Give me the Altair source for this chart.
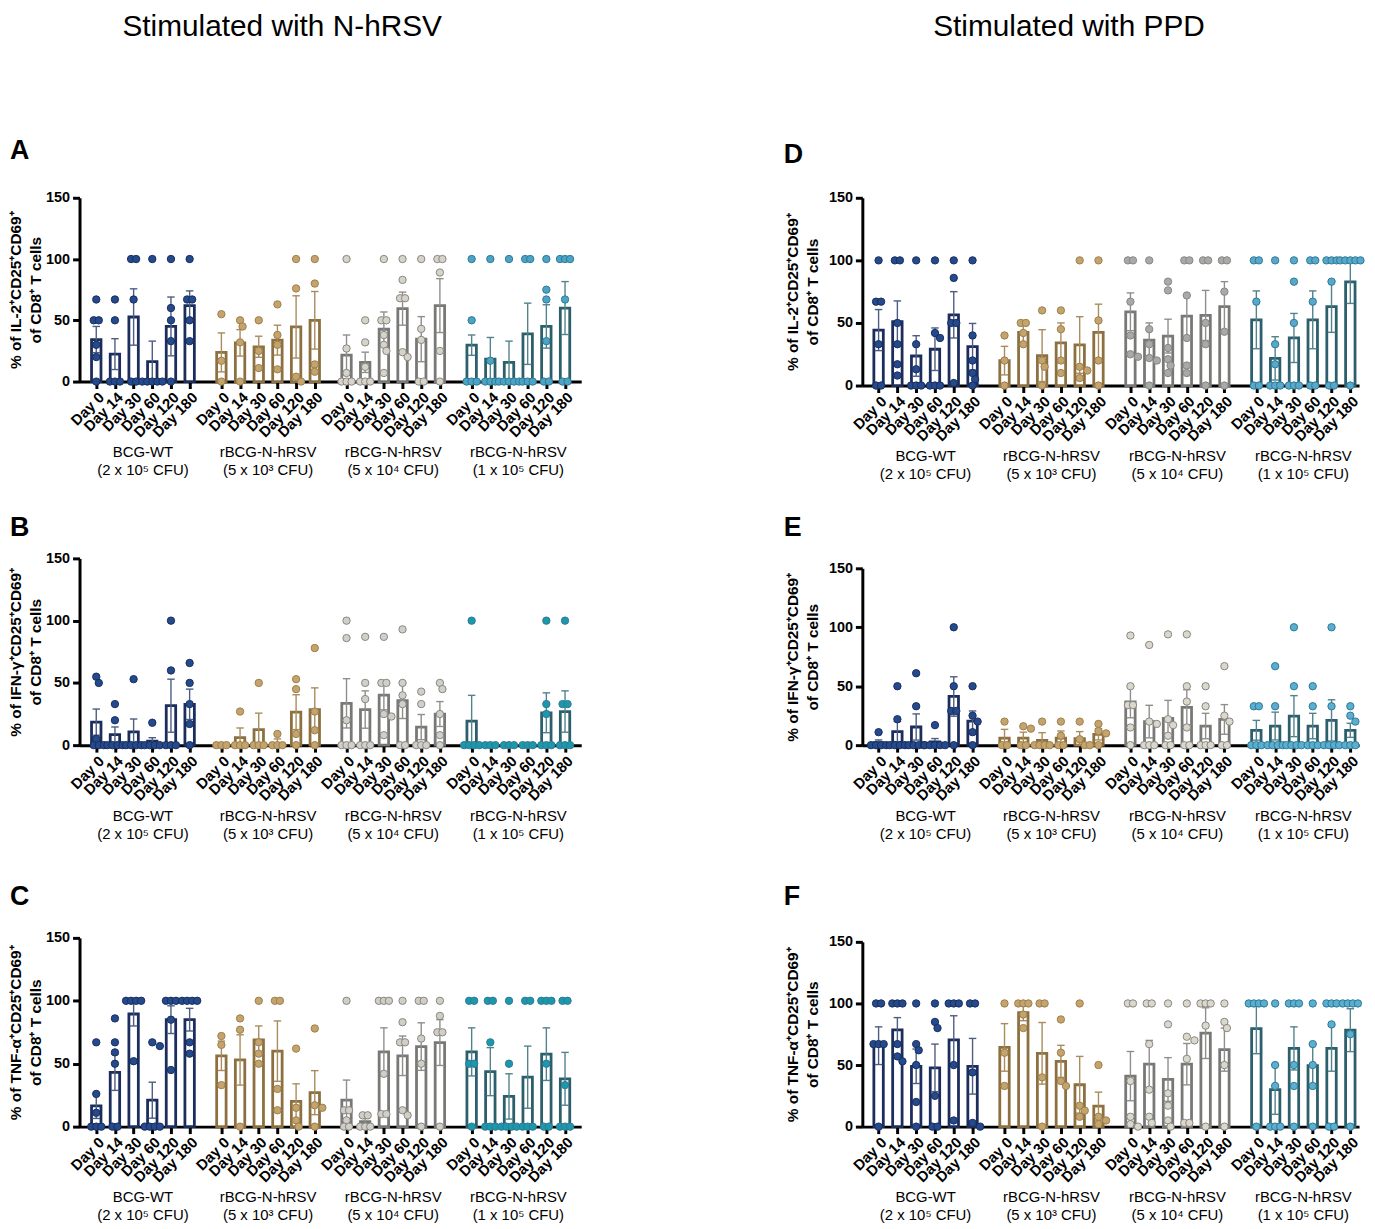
import altair as alt
import pandas as pd

# ---------------- data ----------------
DAYS = ["Day 0", "Day 14", "Day 30", "Day 60", "Day 120", "Day 180"]
GROUP_LABELS = [
    "BCG-WT\n(2 x 10⁵ CFU)",
    "rBCG-N-hRSV\n(5 x 10³ CFU)",
    "rBCG-N-hRSV\n(5 x 10⁴ CFU)",
    "rBCG-N-hRSV\n(1 x 10⁵ CFU)",
]
HEAD_LEFT = "Stimulated with N-hRSV"
HEAD_RIGHT = "Stimulated with PPD"
TITLE_IL2 = ["% of IL-2⁺CD25⁺CD69⁺", "of CD8⁺ T cells"]
TITLE_IFN = ["% of IFN-γ⁺CD25⁺CD69⁺", "of CD8⁺ T cells"]
TITLE_TNF = ["% of TNF-α⁺CD25⁺CD69⁺", "of CD8⁺ T cells"]

# Panel A  (IL-2, N-hRSV)
A_MEAN = [[34.3, 22.4, 52.7, 16.2, 45, 62], [23.8, 31.6, 28.4, 33.8, 44.6, 50],
          [21.6, 15.7, 42.7, 59.5, 34.6, 62], [29.7, 18.4, 15.7, 39, 45, 60]]
A_SEM = [[10.7, 12.6, 23, 16.8, 24, 12], [15.9, 10.8, 8.6, 12.2, 25.4, 23.5],
         [16.4, 8.3, 14.1, 13.5, 18.4, 22], [8.3, 17.6, 17.3, 25, 17.7, 21.6]]
A_PTS = [
    [[67, 50, 50, 30, 20, 0], [67, 50, 0, 0, 0], [100, 100, 67, 0, 0], [100, 0, 0, 0, 0, 0], [100, 60, 50, 33, 0], [100, 67, 67, 50, 33]],
    [[55, 17, 0], [50, 45, 32, 0], [50, 25, 11], [63, 38, 30, 10], [100, 76, 4, 0], [100, 80, 14, 8]],
    [[100, 27, 7, 0, 0, 0], [50, 32, 12, 0, 0, 0], [100, 50, 50, 38, 30, 25, 7], [100, 83, 68, 68, 24, 20], [100, 43, 34, 0, 0], [100, 100, 89, 25, 0]],
    [[100, 50, 0, 0, 0], [100, 17, 0, 0, 0], [100, 0, 0, 0, 0, 0], [100, 100, 0, 0, 0], [100, 75, 67, 33, 0, 0], [100, 100, 100, 67, 0, 0]],
]

# Panel B  (IFN-g, N-hRSV)
B_MEAN = [[18.5, 8.5, 10.6, 3.2, 31.7, 32.8], [0, 6, 12.4, 1.3, 26.5, 28.6],
          [33.6, 28.6, 40.2, 35.7, 14.5, 25], [19.3, 0, 0, 0, 26, 27]]
B_SEM = [[10.5, 6.1, 10.4, 2.8, 21.3, 12.2], [0, 7.8, 13.3, 3.7, 14, 17.4],
         [19.8, 15, 11.8, 14.3, 10.1, 10], [20.7, 0, 0, 0, 16, 16.6]]
B_PTS = [
    [[55, 50, 5, 0, 0, 0], [33, 20, 0, 0, 0, 0], [53, 0, 0, 0, 0], [18, 0, 0, 0, 0], [100, 60, 0, 0, 0], [66, 50, 33, 17, 0]],
    [[0, 0, 0], [27, 0, 0, 0], [50, 0, 0, 0], [9, 0, 0, 0], [53, 45, 9, 0], [78, 27, 12, 0]],
    [[100, 86, 20, 0, 0, 0], [87, 50, 37, 0, 0, 0], [87, 50, 50, 25, 23, 8], [93, 50, 40, 33, 0, 0], [43, 33, 0, 0, 0], [50, 45, 25, 8, 0]],
    [[100, 0, 0, 0, 0], [0, 0, 0], [0, 0, 0], [0, 0, 0], [100, 33, 25, 0, 0, 0], [100, 33, 33, 0, 0, 0]],
]

# Panel C  (TNF-a, N-hRSV)
C_MEAN = [[16.5, 43.2, 89.5, 21, 85, 85], [56.3, 53, 69, 60, 20, 27],
          [21, 4, 59.4, 56.3, 63.6, 66.8], [59.4, 43.7, 24, 39.3, 57.6, 38]]
C_SEM = [[10, 14.4, 9.5, 14.3, 11, 9], [11.7, 20, 11, 24, 14, 17.5],
         [16, 2.5, 19.1, 15.7, 18.9, 18.2], [19.1, 19.1, 18, 24.7, 20.9, 21]]
C_PTS = [
    [[67, 26, 11, 0, 0, 0], [86, 67, 59, 50, 0, 0], [100, 100, 100, 100, 52], [67, 64, 0, 0, 0, 0], [100, 100, 100, 85, 45], [100, 100, 100, 100, 67, 58]],
    [[72, 65, 33], [86, 77, 0], [100, 67, 58, 50], [100, 100, 30, 13], [62, 15, 5, 0], [78, 17, 15, 0]],
    [[100, 13, 13, 5, 0, 0], [9, 9, 0, 0, 0], [100, 100, 100, 42, 10, 10], [100, 83, 67, 67, 13, 9], [100, 100, 70, 50, 0], [100, 88, 75, 75, 0]],
    [[100, 100, 50, 50, 0], [100, 100, 67, 0, 0, 0], [100, 50, 0, 0, 0, 0], [100, 100, 0, 0, 0], [100, 100, 100, 50, 0, 0], [100, 100, 33, 0, 0, 0]],
]

# Panel D  (IL-2, PPD)
D_MEAN = [[44.3, 51, 23.6, 29, 56.5, 31], [19.9, 42.4, 23.9, 34, 32.4, 42.4],
          [58.9, 36.3, 39.5, 55.4, 56, 63], [52.5, 21.7, 38, 52.5, 63, 82.8]]
D_SEM = [[16.4, 16.6, 16.2, 17, 18.5, 18.6], [11.4, 8.6, 20.7, 16, 22.6, 22.6],
         [15.1, 13.7, 13.5, 16.6, 20, 20], [23.1, 17.3, 19.6, 23.1, 20.5, 17.2]]
D_PTS = [
    [[100, 67, 67, 33, 0, 0], [100, 100, 50, 33, 17, 8], [100, 33, 13, 0, 0, 0], [100, 42, 38, 0, 0, 0], [100, 86, 50, 50, 2], [100, 40, 20, 10, 5, 0]],
    [[40, 20, 0], [50, 50, 42, 33], [60, 20, 15, 0], [60, 45, 20, 10], [100, 15, 12, 6], [100, 52, 20, 0]],
    [[100, 100, 67, 40, 25, 23], [100, 45, 33, 22, 20, 0], [83, 76, 30, 21, 16, 10], [100, 100, 72, 38, 16, 10], [100, 100, 50, 33, 0], [100, 100, 75, 43, 0]],
    [[100, 100, 67, 0, 0], [100, 33, 17, 0, 0, 0], [100, 83, 50, 0, 0, 0], [100, 100, 67, 0, 0], [100, 100, 100, 83, 0, 0], [100, 100, 100, 100, 100, 0]],
]

# Panel E  (IFN-g, PPD)
E_MEAN = [[2.2, 11.5, 15.4, 2.8, 41.3, 20.4], [6, 6, 4, 6, 5.6, 9.2],
          [36.6, 20, 22.6, 32, 16.2, 21.8], [12.6, 16.2, 24.6, 16.2, 21, 12.6]]
E_SEM = [[2.2, 8.5, 11.1, 2.8, 16.7, 8.6], [7.4, 5, 6.6, 6, 5.9, 4.8],
         [13.4, 13.8, 15.4, 15, 10.8, 12.6], [8.4, 11.8, 17.4, 10.8, 17.5, 6]]
E_PTS = [
    [[11, 0, 0, 0, 0], [50, 22, 0, 0, 0, 0], [61, 33, 0, 0, 0, 0], [17, 0, 0, 0, 0, 0], [100, 50, 29, 29, 0], [50, 25, 20, 11, 0]],
    [[20, 0, 0], [16, 14, 0, 0], [20, 0, 0, 0, 0], [20, 8, 0, 0], [20, 5, 0, 0], [18, 12, 10, 0]],
    [[93, 50, 34, 34, 15, 0], [85, 20, 18, 0, 0, 0], [94, 22, 17, 8, 0, 0], [94, 50, 37, 15, 0, 0], [50, 33, 0, 0, 0], [67, 25, 20, 0, 0]],
    [[33, 33, 0, 0, 0], [67, 33, 0, 0, 0, 0], [100, 50, 0, 0, 0, 0], [50, 33, 0, 0, 0], [100, 33, 0, 0, 0, 0], [33, 25, 20, 0, 0, 0]],
]

# Panel F  (TNF-a, PPD)
F_MEAN = [[65.7, 78.5, 49, 47.7, 70.5, 49], [64.3, 92.5, 59.5, 53, 34, 16.6],
          [41, 50.7, 38.3, 50.7, 75.9, 62.5], [79.6, 30, 63.5, 49.6, 63.5, 78.3]]
F_SEM = [[15.3, 10, 14, 19.3, 19.5, 22.6], [19.3, 6.5, 25, 13, 23, 11.4],
         [20, 19.3, 17.7, 16.8, 20.6, 17.5], [20.4, 20, 17.5, 17.4, 18.5, 17.4]]
F_PTS = [
    [[100, 100, 67, 67, 67, 0], [100, 100, 100, 67, 57, 53], [100, 67, 62, 50, 20, 0], [100, 85, 80, 25, 0, 0], [100, 100, 100, 50, 5], [100, 100, 44, 3, 0]],
    [[100, 60, 33], [100, 100, 100, 91, 80], [100, 100, 40, 0], [87, 60, 37, 33], [100, 17, 13, 8], [50, 8, 5, 2]],
    [[100, 100, 37, 8, 2, 0], [100, 100, 67, 30, 8, 3], [100, 83, 27, 17, 5, 0], [100, 73, 70, 55, 3, 3], [100, 100, 100, 82, 0], [100, 85, 80, 50, 0]],
    [[100, 100, 100, 100, 0], [100, 50, 33, 0, 0, 0], [100, 100, 100, 50, 33, 0], [100, 67, 50, 33, 0], [100, 100, 100, 83, 0, 0], [100, 100, 100, 100, 75, 0]],
]

# ---------------- styling ----------------
FONT = "Liberation Sans"
GROUP_STEP = 6.7
CAP = 0.2
BAR_STROKE = ["#1b2d5c", "#8c7040", "#787876", "#2c5f6b"]
ERR_COLOR = ["#4d5d82", "#a88c5c", "#8e8e8c", "#52828c"]
DOT_STROKE = ["#1b2d5c", "#9c7f4e", "#868684", "#2f7a92"]

PANELS = {
    "A": dict(mean=A_MEAN, sem=A_SEM, pts=A_PTS, title=TITLE_IL2, H=185, ly=-47, lx=-70,
              dots=["#244a8e", "#c4a46c", "#d8d3c8", "#4ba3c6"], head=HEAD_LEFT, hx=204, hy=-172,
              xdom=[-0.63, 25.7], tx=-56, W=505),
    "B": dict(mean=B_MEAN, sem=B_SEM, pts=B_PTS, title=TITLE_IFN, H=188, ly=-31, lx=-70,
              dots=["#244a8e", "#c4a46c", "#d2cfc8", "#1c98ad"], xdom=[-0.63, 25.7], tx=-56, W=505),
    "C": dict(mean=C_MEAN, sem=C_SEM, pts=C_PTS, title=TITLE_TNF, H=190, ly=-41, lx=-70,
              dots=["#244a8e", "#c4a46c", "#d2cec6", "#1c98ad"], xdom=[-0.63, 25.7], tx=-56, W=505),
    "D": dict(mean=D_MEAN, sem=D_SEM, pts=D_PTS, title=TITLE_IL2, H=189, ly=-43, lx=-79,
              dots=["#244a8e", "#c4a46c", "#a9a9a7", "#57a8cc"], head=HEAD_RIGHT, hx=208, hy=-172,
              xdom=[-0.6, 25.3], tx=-62, W=500),
    "E": dict(mean=E_MEAN, sem=E_SEM, pts=E_PTS, title=TITLE_IFN, H=178, ly=-41, lx=-79,
              dots=["#244a8e", "#c4a46c", "#dcd7cb", "#5aaed2"], xdom=[-0.6, 25.3], tx=-62, W=500),
    "F": dict(mean=F_MEAN, sem=F_SEM, pts=F_PTS, title=TITLE_TNF, H=186, ly=-45, lx=-79,
              dots=["#244a8e", "#c4a46c", "#dcd7cb", "#5aaed2"], xdom=[-0.6, 25.3], tx=-62, W=500),
}


def spread(values, px_x, px_y, w=0.27, dmin=6.5):
    """Small beeswarm: identical values side by side, others centred unless they collide."""
    order = sorted(range(len(values)), key=lambda i: -values[i])
    rows = []
    for i in order:
        if rows and abs(values[rows[-1][0]] - values[i]) < 1.5:
            rows[-1].append(i)
        else:
            rows.append([i])
    offs = [0.0] * len(values)
    placed = []
    for row in rows:
        n = len(row)
        base = [(k - (n - 1) / 2) * w for k in range(n)]
        chosen = base
        for shift in [0, w / 2, -w / 2, w, -w, 1.5 * w, -1.5 * w]:
            cand = [b + shift for b in base]
            ok = True
            for idx, c in zip(row, cand):
                for (pv, po) in placed:
                    dx = (c - po) * px_x
                    dy = (values[idx] - pv) * px_y
                    if (dx * dx + dy * dy) ** 0.5 < dmin:
                        ok = False
                        break
                if not ok:
                    break
            if ok:
                chosen = cand
                break
        for idx, c in zip(row, chosen):
            offs[idx] = c
            placed.append((values[idx], c))
    return offs


def make_panel(key):
    p = PANELS[key]
    H = p["H"]
    W = p["W"]
    px_x = W / (p["xdom"][1] - p["xdom"][0])
    px_y = H / 150.0
    bars, pts, labs = [], [], []
    for g in range(4):
        for d in range(6):
            xi = g * GROUP_STEP + d
            m = p["mean"][g][d]
            s = p["sem"][g][d]
            bars.append(dict(x=xi, m=m, lo=max(m - s, 0), hi=m + s, xa=xi - CAP, xb=xi + CAP,
                             bs=BAR_STROKE[g], ec=ERR_COLOR[g]))
            vals = p["pts"][g][d]
            for v, o in zip(vals, spread(vals, px_x, px_y)):
                pts.append(dict(x=xi + o, v=v, pf=p["dots"][g], ps=DOT_STROKE[g]))
        labs.append(dict(x=g * GROUP_STEP + 2.5, t=GROUP_LABELS[g]))
    bars = pd.DataFrame(bars)
    pts = pd.DataFrame(pts)
    labs = pd.DataFrame(labs)

    tick_vals = [g * GROUP_STEP + d for g in range(4) for d in range(6)]
    day_arr = "[" + ",".join("'%s'" % t for t in DAYS) + "]"
    label_expr = "%s[round(datum.value - %s*floor((datum.value+0.5)/%s))]" % (day_arr, GROUP_STEP, GROUP_STEP)

    xs = alt.Scale(domain=p["xdom"], nice=False, zero=False)
    xaxis = alt.Axis(values=tick_vals, labelExpr=label_expr, title=None, grid=False,
                     labelAngle=-45, labelAlign="right", labelBaseline="top",
                     labelFontSize=15, labelFontWeight="bold", labelFont=FONT, labelColor="black",
                     labelPadding=1, labelOverlap=False, labelFlush=False, labelBound=False,
                     tickSize=7, tickWidth=3, tickColor="black",
                     domainWidth=3, domainColor="black")
    ys = alt.Scale(domain=[0, 150], nice=False, zero=True)
    yaxis = alt.Axis(values=[0, 50, 100, 150], title=p["title"], grid=False,
                     labelFontSize=14.5, labelFontWeight="bold", labelFont=FONT, labelColor="black",
                     labelPadding=3, tickSize=7, tickWidth=3, tickColor="black",
                     domainWidth=3, domainColor="black",
                     titleFont=FONT, titleFontSize=15.5, titleFontWeight="bold", titleColor="black",
                     titleLineHeight=19.5, titleBaseline="bottom", titleAngle=-90,
                     titleX=p["tx"], titleY=H / 2, titleAlign="center",
                     labelOverlap=False)

    def X(f):
        return alt.X(f, scale=xs, axis=xaxis)

    def Y(f):
        return alt.Y(f, scale=ys, axis=yaxis)

    bar = alt.Chart(bars).mark_bar(size=9.5, strokeWidth=2.8, fill="white").encode(
        x=X("x:Q"), y=Y("m:Q"), y2=alt.Y2(datum=0),
        stroke=alt.Stroke("bs:N", scale=None))
    whisk = alt.Chart(bars).mark_rule(strokeWidth=1.4).encode(
        x=X("x:Q"), y=Y("lo:Q"), y2="hi:Q", color=alt.Color("ec:N", scale=None))
    cap_hi = alt.Chart(bars).mark_rule(strokeWidth=1.4).encode(
        x=X("xa:Q"), x2="xb:Q", y=Y("hi:Q"), color=alt.Color("ec:N", scale=None))
    cap_lo = alt.Chart(bars).mark_rule(strokeWidth=1.4).encode(
        x=X("xa:Q"), x2="xb:Q", y=Y("lo:Q"), color=alt.Color("ec:N", scale=None))
    dots = alt.Chart(pts).mark_circle(size=55, strokeWidth=1, opacity=1).encode(
        x=X("x:Q"), y=Y("v:Q"),
        fill=alt.Fill("pf:N", scale=None), stroke=alt.Stroke("ps:N", scale=None))
    glabel = alt.Chart(labs).mark_text(font=FONT, fontSize=15, lineBreak="\n", lineHeight=18,
                                       baseline="top", align="center", color="black").encode(
        x=X("x:Q"), y=alt.value(H + 64), text="t:N")
    letter = alt.Chart(pd.DataFrame({"t": [key]})).mark_text(
        font=FONT, fontSize=27, fontWeight="bold", align="left", baseline="middle", color="black").encode(
        x=alt.value(p["lx"]), y=alt.value(p["ly"]), text="t:N")
    layers = [bar, whisk, cap_hi, cap_lo, dots, glabel, letter]
    if "head" in p:
        head = alt.Chart(pd.DataFrame({"t": [p["head"]]})).mark_text(
            font=FONT, fontSize=30, align="center", baseline="middle", color="black").encode(
            x=alt.value(p["hx"]), y=alt.value(p["hy"]), text="t:N")
        layers.append(head)
    return alt.layer(*layers).properties(width=W, height=H)


left = alt.vconcat(make_panel("A"),
                   alt.vconcat(make_panel("B"), make_panel("C"), spacing=42),
                   spacing=36)
right = alt.vconcat(make_panel("D"),
                    alt.vconcat(make_panel("E"), make_panel("F"), spacing=42),
                    spacing=32)
chart = (alt.hconcat(left, right, spacing=204)
         .properties(padding=0)
         .configure(font=FONT)
         .configure_view(strokeWidth=0))

chart.save("out.html", embed_options={"renderer": "svg", "actions": False})
